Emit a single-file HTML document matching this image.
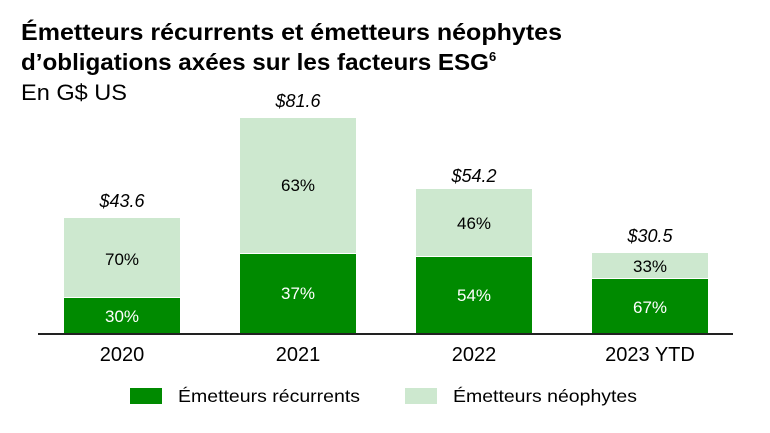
<!DOCTYPE html>
<html><head><meta charset="utf-8"><style>
html,body{margin:0;padding:0;background:#fff;}
svg{display:block;font-family:"Liberation Sans",sans-serif;}
</style></head><body>
<svg width="770" height="433" viewBox="0 0 770 433" xmlns="http://www.w3.org/2000/svg">
<text x="21" y="40" font-size="23" font-weight="bold" fill="#000" textLength="541" lengthAdjust="spacingAndGlyphs">Émetteurs récurrents et émetteurs néophytes</text>
<text x="21" y="70" font-size="23" font-weight="bold" fill="#000"><tspan textLength="468" lengthAdjust="spacingAndGlyphs">d’obligations axées sur les facteurs ESG</tspan><tspan font-size="13" dy="-9">6</tspan></text>
<text x="21" y="100" font-size="22" fill="#000" textLength="106" lengthAdjust="spacingAndGlyphs">En G$ US</text>

<g text-anchor="middle">
<rect x="64" y="218" width="116" height="79" fill="#cde8cf"/>
<rect x="64" y="298" width="116" height="36" fill="#008a00"/>
<rect x="240" y="118" width="116" height="135" fill="#cde8cf"/>
<rect x="240" y="254" width="116" height="80" fill="#008a00"/>
<rect x="416" y="189" width="116" height="67" fill="#cde8cf"/>
<rect x="416" y="257" width="116" height="77" fill="#008a00"/>
<rect x="592" y="253" width="116" height="25" fill="#cde8cf"/>
<rect x="592" y="279" width="116" height="55" fill="#008a00"/>

<g font-size="18" font-style="italic" fill="#000">
<text x="122" y="207">$43.6</text>
<text x="298" y="107">$81.6</text>
<text x="474" y="182">$54.2</text>
<text x="650" y="242">$30.5</text>
</g>
<g font-size="17">
<text x="122" y="265" fill="#000">70%</text>
<text x="122" y="322" fill="#fff">30%</text>
<text x="298" y="191" fill="#000">63%</text>
<text x="298" y="299" fill="#fff">37%</text>
<text x="474" y="229" fill="#000">46%</text>
<text x="474" y="301" fill="#fff">54%</text>
<text x="650" y="272" fill="#000">33%</text>
<text x="650" y="313" fill="#fff">67%</text>
</g>

<rect x="38" y="333" width="695" height="2" fill="#222"/>
<g font-size="20" fill="#000">
<text x="122" y="361">2020</text>
<text x="298" y="361">2021</text>
<text x="474" y="361">2022</text>
<text x="650" y="361">2023 YTD</text>
</g>
</g>

<rect x="130" y="388" width="32" height="16" fill="#008a00"/>
<text x="178" y="402" font-size="17.5" fill="#000" textLength="182" lengthAdjust="spacingAndGlyphs">Émetteurs récurrents</text>
<rect x="405" y="388" width="32" height="16" fill="#cde8cf"/>
<text x="453" y="402" font-size="17.5" fill="#000" textLength="184" lengthAdjust="spacingAndGlyphs">Émetteurs néophytes</text>
</svg>
</body></html>
